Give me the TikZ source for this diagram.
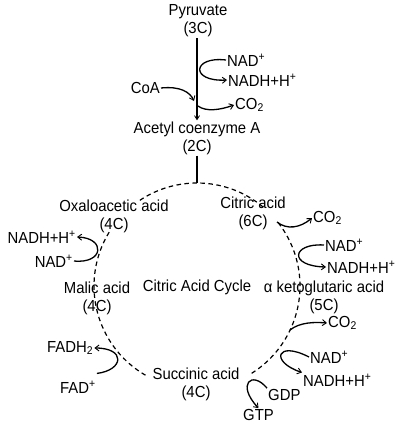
\documentclass[tikz,border=0pt]{standalone}
\usepackage{fontspec}
\setmainfont{Liberation Sans}[FakeStretch=0.93]
\usetikzlibrary{arrows.meta}

\begin{document}
\begin{tikzpicture}[x=1pt,y=-1pt,
  lbl/.style={inner sep=1pt,font=\fontsize{16}{18}\selectfont},
  stage/.style={lbl,align=center},
  react/.style={line width=1.3pt,-{Straight Barb[length=4pt,width=6pt,line width=0.9pt]}},
  cyc/.style={line width=1.2pt,dash pattern=on 4.5pt off 3.5pt}]
\useasboundingbox (0,0) rectangle (406,434);
% cycle, broken at the labels
\draw[cyc] (197,286) ++(-50:103) arc[start angle=-50,end angle=-124,radius=103];
\draw[cyc] (197,286) ++(-38:103) arc[start angle=-38,end angle=58,radius=103];
\draw[cyc] (197,286) ++(120:103) arc[start angle=120,end angle=213,radius=103];
\coordinate (ctop) at (197,183);
% stages
\node[stage] (pyr) at (198,21) {Pyruvate\\(3C)};
\node[stage] (acetyl) at (197,138) {Acetyl coenzyme A\\(2C)};
\node[stage] (oxalo) at (114,216) {Oxaloacetic acid\\(4C)};
\node[stage] (citric) at (253,213) {Citric acid\\(6C)};
\node[stage] (malic) at (97,298) {Malic acid\\(4C)};
\node[stage] (keto) at (324,297) {α ketoglutaric acid\\(5C)};
\node[stage] (succ) at (196,384) {Succinic acid\\(4C)};
\node[lbl] (tca) at (197,287) {Citric Acid Cycle};
% side products
\node[lbl,anchor=west] (nada) at (226,60) {NAD\textsuperscript{+}};
\node[lbl,anchor=west] (nadha) at (227,80) {NADH+H\textsuperscript{+}};
\node[lbl,anchor=east] (coa) at (161,88) {CoA};
\node[lbl,anchor=west] (co2a) at (234,105) {CO\textsubscript{2}};
\node[lbl,anchor=west] (co2b) at (312,218) {CO\textsubscript{2}};
\node[lbl,anchor=west] (nadb) at (324,245) {NAD\textsuperscript{+}};
\node[lbl,anchor=west] (nadhb) at (326,267) {NADH+H\textsuperscript{+}};
\node[lbl,anchor=east] (nadhc) at (77,237) {NADH+H\textsuperscript{+}};
\node[lbl,anchor=east] (nadc) at (74,261) {NAD\textsuperscript{+}};
\node[lbl,anchor=west] (co2c) at (327,323) {CO\textsubscript{2}};
\node[lbl,anchor=west] (nadd) at (309,357) {NAD\textsuperscript{+}};
\node[lbl,anchor=west] (nadhd) at (302,380) {NADH+H\textsuperscript{+}};
\node[lbl,anchor=west] (gdp) at (267,395) {GDP};
\node[lbl,anchor=west] (gtp) at (242,415) {GTP};
\node[lbl,anchor=west] (fadh) at (46,348) {FADH\textsubscript{2}};
\node[lbl,anchor=west] (fad) at (59,387) {FAD\textsuperscript{+}};
% main line
\coordinate (coajoin) at (194,101);
\coordinate (co2join) at (198,106);
\draw[line width=1.4pt,-{Straight Barb[length=4pt,width=5pt,line width=0.8pt]}] (197,38) -- (acetyl.north);
\draw[line width=1.4pt] (acetyl.south) -- (ctop);
% reactions
\draw[react] (nada.west) .. controls (192,56) and (190,82) .. (nadha.west);
\draw[react] (coa.east) .. controls (180,86) and (190,92) .. (coajoin);
\draw[react] (co2join) .. controls (206,112) and (220,110) .. (co2a.west);
\coordinate (citout) at (277,222);
\draw[react] (citout) .. controls (287,230) and (300,228) .. (co2b.west);
\draw[react] (nadb.west) .. controls (292,243) and (288,266) .. (nadhb.west);
\draw[react] (nadc.east) .. controls (104,264) and (106,238) .. (nadhc.east);
\coordinate (ketout) at (290,330);
\draw[react] (ketout) .. controls (300,322) and (315,322) .. (co2c.west);
\draw[react] (nadd.west) .. controls (276,340) and (270,362) .. (nadhd.north west);
\draw[react] (gdp.north west) .. controls (252,370) and (236,384) .. (gtp.north);
\draw[react] ([yshift=6pt]fad.north east) .. controls (124,370) and (126,348) .. (fadh.east);
\end{tikzpicture}
\end{document}
